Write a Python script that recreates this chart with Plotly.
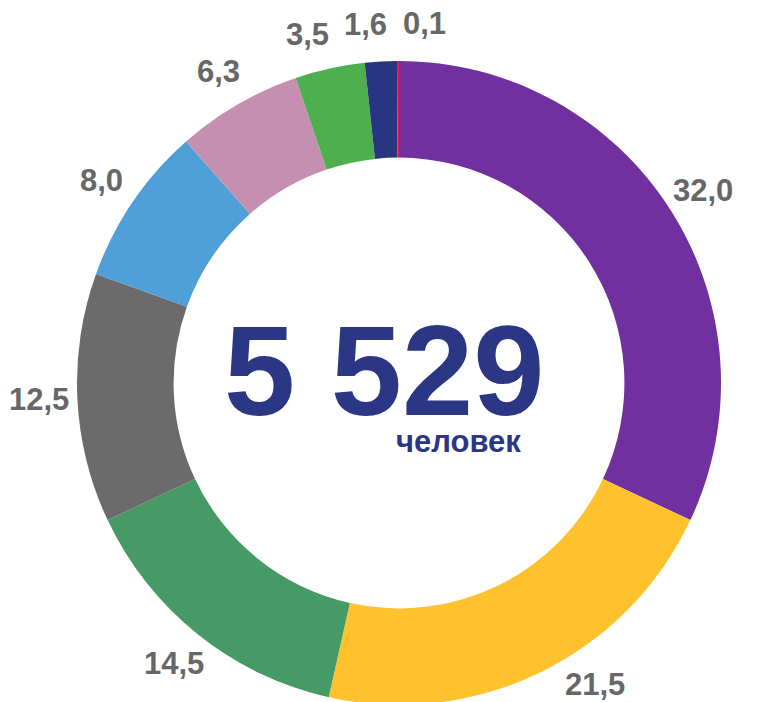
import math
import plotly.graph_objects as go

values = [32.0, 21.5, 14.5, 12.5, 8.0, 6.3, 3.5, 1.6, 0.1]
labels_text = ["32,0", "21,5", "14,5", "12,5", "8,0", "6,3", "3,5", "1,6", "0,1"]
colors = ["#7130A0", "#FFC12C", "#459A65", "#6B6B6B", "#4F9FD9", "#C48FB0",
          "#4EAF4F", "#283583", "#E8194A"]
total_text = "5 529"
unit_text = "человек"

W, H = 763, 702
PAGE_OFFSET = 8          # default body margin of the html page
dom_x = [0.0904, 0.9345]
dom_y = [0.0071, 0.9245]
LABEL_SIZE = 31

fig = go.Figure(go.Pie(
    values=values,
    labels=[f"s{i}" for i in range(len(values))],
    textinfo="none",
    marker=dict(colors=colors, line=dict(width=0)),
    hole=0.70,
    sort=False,
    direction="clockwise",
    rotation=0,
    showlegend=False,
    domain=dict(x=dom_x, y=dom_y),
    hoverinfo="skip",
))

# geometry of the pie in figure pixels (derived from the domain)
cx = (dom_x[0] + dom_x[1]) / 2 * W
cy = H - (dom_y[0] + dom_y[1]) / 2 * H
radius = min((dom_x[1] - dom_x[0]) * W, (dom_y[1] - dom_y[0]) * H) / 2
label_r = radius * 1.118
y_max = H - PAGE_OFFSET - LABEL_SIZE * 0.55

# mid angles of each slice (clockwise from 12 o'clock)
total = sum(values)
angles = []
cum = 0.0
for v in values:
    angles.append((cum + v / 2) / total * 2 * math.pi)
    cum += v

def text_w(s):
    return sum(0.278 if ch == "," else 0.556 for ch in s) * LABEL_SIZE

widths = [text_w(s) for s in labels_text]
th = LABEL_SIZE * 1.0
gap = 14

def pos(a):
    x, y = cx + label_r * math.sin(a), cy - label_r * math.cos(a)
    if y > y_max:  # slide along the circle to stay inside the page
        dy = y_max - cy
        dx = math.sqrt(max(label_r ** 2 - dy ** 2, 0))
        x = cx + math.copysign(dx, math.sin(a))
        y = y_max
    return x, y

# simple relaxation to avoid overlapping labels of neighbouring slices
for _ in range(400):
    moved = False
    n = len(angles)
    for i in range(n):
        j = (i + 1) % n
        xi, yi = pos(angles[i])
        xj, yj = pos(angles[j])
        if abs(xi - xj) < (widths[i] + widths[j]) / 2 + gap and abs(yi - yj) < th + 4:
            d = 0.003
            angles[i] -= d
            angles[j] += d
            moved = True
    if not moved:
        break

for txt, a in zip(labels_text, angles):
    x, y = pos(a)
    fig.add_annotation(x=x / W, y=1 - y / H, xref="paper", yref="paper",
                       text=f"<b>{txt}</b>", showarrow=False,
                       font=dict(family="Liberation Sans, Arial", size=LABEL_SIZE, color="#676767"),
                       xanchor="center", yanchor="middle")

fig.add_annotation(x=0.493, y=0.483, xref="paper", yref="paper",
                   text=f"<b>{total_text}</b>", showarrow=False,
                   font=dict(family="Liberation Sans, Arial", size=128, color="#2B3684"),
                   xanchor="center", yanchor="middle")
fig.add_annotation(x=0.591, y=0.383, xref="paper", yref="paper",
                   text=f"<b>{unit_text}</b>", showarrow=False,
                   font=dict(family="Liberation Sans, Arial", size=31, color="#2B3684"),
                   xanchor="center", yanchor="middle")

fig.update_layout(width=W, height=H, margin=dict(l=0, r=0, t=0, b=0),
                  paper_bgcolor="white", plot_bgcolor="white")
fig.write_html("out.html")
